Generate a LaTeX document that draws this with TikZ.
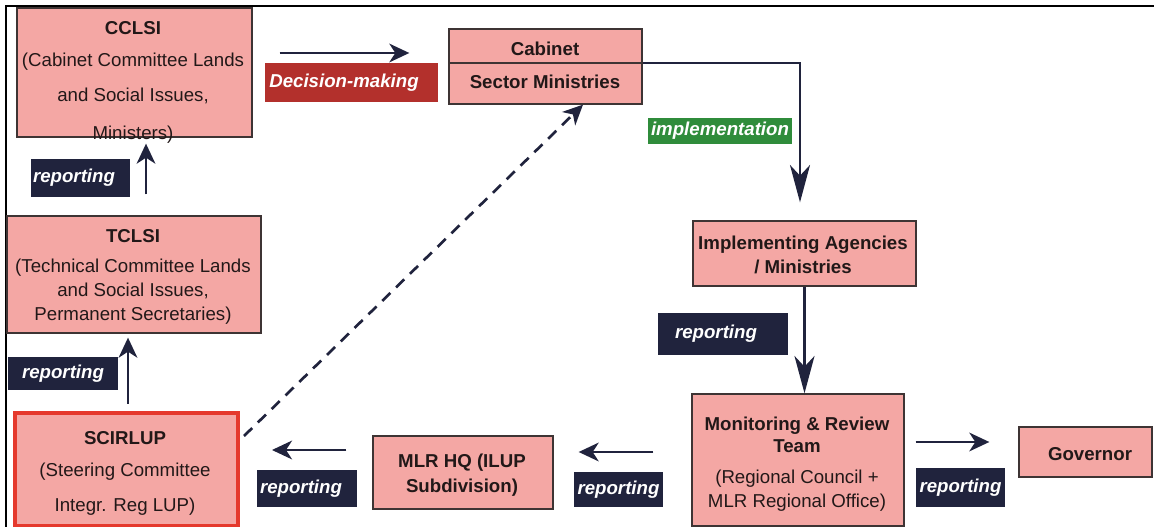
\documentclass[tikz,border=0pt]{standalone}
\usepackage{fontspec}
\setmainfont{Liberation Sans}
\usetikzlibrary{arrows.meta}
\definecolor{boxfill}{HTML}{F4A7A4}
\definecolor{boxline}{HTML}{3E3434}
\definecolor{ink}{HTML}{221818}
\definecolor{navy}{HTML}{20233D}
\definecolor{redlab}{HTML}{B3302C}
\definecolor{greenlab}{HTML}{2F8C3B}
\definecolor{redline}{HTML}{E5392D}
\tikzset{
  box/.style={draw=boxline, fill=boxfill, line width=1pt, inner sep=0pt},
  txt/.style={align=center, font=\fontsize{14}{18}\selectfont, inner sep=0pt, text=ink},
  lab/.style={font=\fontsize{14}{18}\selectfont\bfseries\itshape, text=white, inner sep=0pt},
  arr/.style={draw=navy, line width=2pt, -{Stealth[length=15pt, width=14pt, inset=4.5pt]}},
  arrL/.style={draw=navy, line width=2pt, -{Stealth[length=28pt, width=15pt, inset=8pt]}},
}
\begin{document}
\begin{tikzpicture}[x=0.75pt,y=-0.75pt]
\useasboundingbox (0,0) rectangle (1154,527);
\fill[white] (0,0) rectangle (1154,527);
% frame
\draw[line width=1.5pt] (6,527) -- (6,6.5) -- (1154,6.5);

% boxes
\node[box, minimum width=176.25pt, minimum height=96.75pt] (cclsi) at (134.5,72.5) {};
\node[box, minimum width=144.75pt, minimum height=56.25pt] (cabinet) at (545.5,66.5) {};
\node[box, minimum width=167.25pt, minimum height=48.75pt] (impl) at (804.5,253.5) {};
\node[box, minimum width=190.5pt, minimum height=87.75pt] (tclsi) at (134,274.5) {};
\node[box, draw=redline, line width=3pt, minimum width=167.25pt, minimum height=84.75pt] (scirlup) at (126.5,469.5) {};
\node[box, minimum width=135pt, minimum height=54.75pt] (mlr) at (463,472.5) {};
\node[box, minimum width=159pt, minimum height=99pt] (mon) at (798,460) {};
\node[box, minimum width=99.75pt, minimum height=37.5pt] (gov) at (1085.5,452) {};

\coordinate (divy) at (0,63);
\draw[boxline, line width=1pt] (cabinet.west |- divy) -- (cabinet.east |- divy);

% texts
\node[txt] (cclsiT) at (133,82.3) {\textbf{CCLSI}\\[6pt](Cabinet Committee Lands\\[8.25pt]and Social Issues,\\[10.5pt]Ministers)};
\node[txt] (tclsiT) at (133,277.3) {\textbf{TCLSI}\\[4.5pt](Technical Committee Lands\\and Social Issues,\\Permanent Secretaries)};
\node[txt] (scirlupT) at (125,473.8) {\textbf{SCIRLUP}\\[6pt](Steering Committee\\[8.25pt]Integr. Reg LUP)};
\node[txt, font=\fontsize{14}{18}\selectfont\bfseries] (cabinetT) at (545,64.9) {Cabinet\\[6.75pt]Sector Ministries};
\node[txt, font=\fontsize{14}{18}\selectfont\bfseries] (implT) at (803,255.4) {Implementing Agencies\\/ Ministries};
\node[txt, font=\fontsize{14}{18}\selectfont\bfseries] (mlrT) at (462,475.6) {MLR HQ (ILUP\\[0.75pt]Subdivision)};
\node[txt] (monT) at (797,463.7) {\textbf{Monitoring \& Review}\\[-1.5pt]\textbf{Team}\\[5.25pt](Regional Council +\\MLR Regional Office)};
\node[txt, font=\fontsize{14}{18}\selectfont\bfseries, anchor=base] (govT) at (1090,460) {Governor};

% labels
\node[lab, fill=redlab, minimum width=129.75pt, minimum height=29.25pt] (labDec) at (351,82.5) {\hspace*{-10.5pt}Decision-making};
\node[lab, fill=greenlab, minimum width=108pt, minimum height=19.5pt] (labImp) at (720,131) {implementation};
\node[lab, fill=navy, minimum width=74.25pt, minimum height=28.5pt] (rep1) at (80.5,178) {\hspace*{-9.75pt}reporting};
\node[lab, fill=navy, minimum width=82.5pt, minimum height=24.75pt] (rep2) at (63,373.5) {reporting};
\node[lab, fill=navy, minimum width=97.5pt, minimum height=31.5pt] (rep3) at (723,334) {\hspace*{-10.5pt}\raisebox{2pt}{reporting}};
\node[lab, fill=navy, minimum width=75pt, minimum height=27.75pt] (rep4) at (307,488.5) {\hspace*{-9pt}reporting};
\node[lab, fill=navy, minimum width=66.75pt, minimum height=26.25pt] (rep5) at (618.5,489.5) {reporting};
\node[lab, fill=navy, minimum width=66.75pt, minimum height=29.25pt] (rep6) at (960.5,487.5) {reporting};

% connectors
\coordinate (dmy) at (0,53);
\draw[arr, shorten <=20.25pt, shorten >=29.25pt] (cclsi.east |- dmy) -- (cabinet.west |- dmy);
\draw[arrL, shorten >=13.5pt] (cabinet.east |- divy) -| ([xshift=-3.375pt]impl.north);
\draw[arrL] (impl.south) -- (impl.south |- mon.north);
\coordinate (gy) at (0,442);
\draw[arr, shorten <=8.25pt, shorten >=21.75pt] (mon.east |- gy) -- (gov.west |- gy);
\coordinate (my) at (0,452);
\draw[arr, shorten <=28.5pt, shorten >=18.75pt] (mon.west |- my) -- (mlr.east |- my);
\coordinate (sy) at (0,450);
\draw[arr, shorten <=19.5pt, shorten >=24pt] (mlr.west |- sy) -- (scirlup.east |- sy);
\coordinate (sx) at (128,0);
\draw[arr, shorten <=5.25pt, shorten >=3pt] (scirlup.north -| sx) -- (tclsi.south -| sx);
\coordinate (tx) at (146,0);
\draw[arr, shorten <=15.75pt, shorten >=4.5pt] (tclsi.north -| tx) -- (cclsi.south -| tx);
\draw[arr, dash pattern=on 8.5pt off 6pt] ([xshift=3pt,yshift=-18.75pt]scirlup.north east) -- ([xshift=28.125pt]cabinet.south);
\end{tikzpicture}
\end{document}
